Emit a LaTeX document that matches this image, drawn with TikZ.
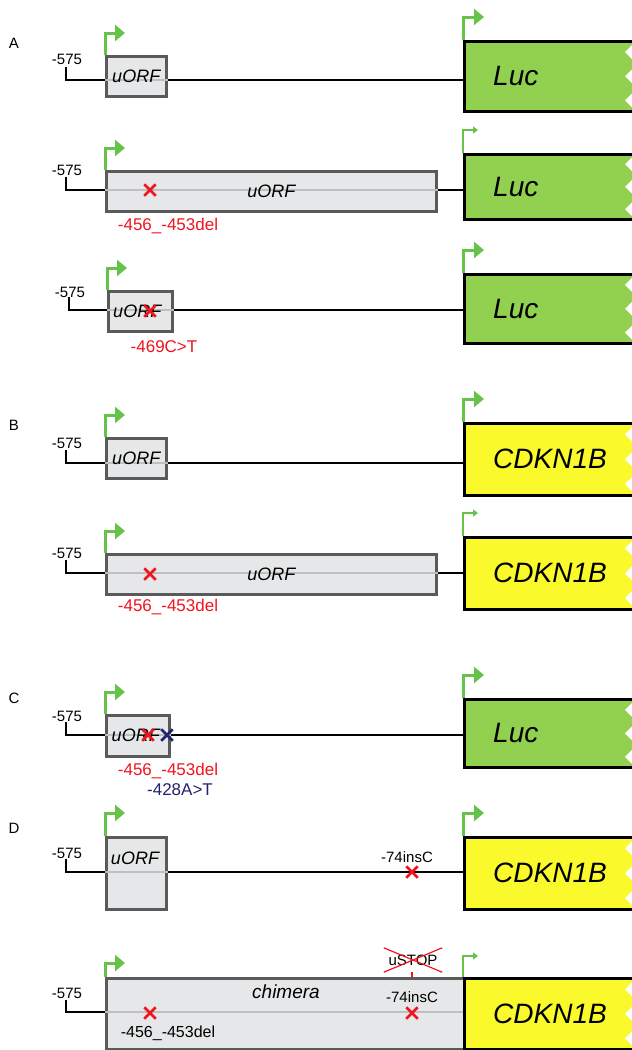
\documentclass[tikz,border=0pt]{standalone}
\usepackage{fontspec}
\setmainfont{Liberation Sans}
\usetikzlibrary{arrows.meta,positioning,calc,shapes.misc}
\definecolor{tssGreen}{HTML}{66C34A}
\definecolor{lucGreen}{HTML}{92D050}
\definecolor{cdkYellow}{HTML}{F9F92C}
\definecolor{orfGray}{HTML}{E6E7E8}
\definecolor{orfEdge}{HTML}{5A5A5A}
\definecolor{mutRed}{HTML}{F0141E}
\definecolor{mutNavy}{HTML}{22226E}

\begin{document}
\begin{tikzpicture}[x=1pt,y=-1pt,
  dna/.style={line width=2.5pt, black},
  orf/.style={draw=orfEdge, fill=orfGray, line width=2.5pt, anchor=north west, inner sep=0pt},
  orfline/.style={line width=2pt, black!25},
  gene/.style={draw=black, line width=2.5pt, anchor=north west, minimum width=190, inner sep=0pt},
  luc/.style={gene, fill=lucGreen},
  cdk/.style={gene, fill=cdkYellow},
  genetxt/.style={font=\fontsize{28}{30}\selectfont\itshape, anchor=west, inner sep=0pt},
  orftxt/.style={font=\fontsize{18}{20}\selectfont\itshape, inner sep=0pt},
  tss/.style={tssGreen, line width=3pt, -{Triangle[length=10pt,width=16pt]}},
  tssthin/.style={tssGreen, line width=1.5pt, -{Triangle[length=5pt,width=7pt]}},
  startlab/.style={font=\fontsize{15}{17}\selectfont, inner sep=0pt},
  mut/.style={cross out, draw=mutRed, line width=2.5pt, minimum size=9, inner sep=0pt},
  lab/.style={font=\fontsize{17}{19}\selectfont, inner sep=0pt, mutRed},
  panel/.style={font=\fontsize{15}{17}\selectfont, inner sep=0pt}]
\useasboundingbox (0,0) rectangle (632,1050);

% ---- A, row 1
\node[panel] (pA) at (14,43) {A};
\coordinate (sA1) at (66,80);
\node[luc, minimum height=70] (gA1) at (463,40) {};
\node[genetxt] (tA1) at ([xshift=30]gA1.west) {Luc};
\draw[dna] ($(sA1)+(0,-13)$) -- (sA1) -- (sA1 -| gA1.west);
\node[orf, minimum width=60, minimum height=40] (uA1) at (105,55) {};
\draw[orfline] (uA1.west |- sA1) -- (uA1.east |- sA1);
\node[orftxt] (oA1) at (uA1) {uORF};
\node[startlab] (nA1) at (67,59) {-575};
\draw[tss] (uA1.north west) -- ++(0,-22) -- ++(20,0);
\draw[tss] (gA1.north west) -- ++(0,-23) -- ++(21,0);

% ---- A, row 2
\coordinate (sA2) at (66,190);
\node[luc, minimum height=65] (gA2) at (463,153) {};
\node[genetxt] (tA2) at ([xshift=30]gA2.west) {Luc};
\draw[dna] ($(sA2)+(0,-13)$) -- (sA2) -- (sA2 -| gA2.west);
\node[orf, minimum width=330, minimum height=40] (uA2) at (105,170) {};
\draw[orfline] (uA2.west |- sA2) -- (uA2.east |- sA2);
\node[orftxt] (oA2) at (uA2) {uORF};
\node[startlab] (nA2) at (67,170) {-575};
\node[mut] (mA2) at (150,190) {};
\node[lab] (lA2) at (168,226) {-456\_-453del};
\draw[tss] (uA2.north west) -- ++(0,-22) -- ++(20,0);
\draw[tssthin] (gA2.north west) -- ++(0,-23) -- ++(15,0);

% ---- A, row 3
\coordinate (sA3) at (69,310);
\node[luc, minimum height=69] (gA3) at (463,273) {};
\node[genetxt] (tA3) at ([xshift=30]gA3.west) {Luc};
\draw[dna] ($(sA3)+(0,-13)$) -- (sA3) -- (sA3 -| gA3.west);
\node[orf, minimum width=64, minimum height=40] (uA3) at (107,290) {};
\draw[orfline] (uA3.west |- sA3) -- (uA3.east |- sA3);
\node[orftxt] (oA3) at ([xshift=-3]uA3) {uORF};
\node[startlab] (nA3) at (70,292) {-575};
\node[mut] (mA3) at (150,311) {};
\node[lab] (lA3) at (164,347) {-469C>T};
\draw[tss] (uA3.north west) -- ++(0,-22) -- ++(20,0);
\draw[tss] (gA3.north west) -- ++(0,-23) -- ++(21,0);

% ---- B, row 1
\node[panel] (pB) at (14,425) {B};
\coordinate (sB1) at (66,463);
\node[cdk, minimum height=72] (gB1) at (463,422) {};
\node[genetxt] (tB1) at ([xshift=30]gB1.west) {CDKN1B};
\draw[dna] ($(sB1)+(0,-13)$) -- (sB1) -- (sB1 -| gB1.west);
\node[orf, minimum width=60, minimum height=40] (uB1) at (105,437) {};
\draw[orfline] (uB1.west |- sB1) -- (uB1.east |- sB1);
\node[orftxt] (oB1) at (uB1) {uORF};
\node[startlab] (nB1) at (67,443) {-575};
\draw[tss] (uB1.north west) -- ++(0,-22) -- ++(20,0);
\draw[tss] (gB1.north west) -- ++(0,-23) -- ++(21,0);

% ---- B, row 2
\coordinate (sB2) at (66,573);
\node[cdk, minimum height=72] (gB2) at (463,536) {};
\node[genetxt] (tB2) at ([xshift=30]gB2.west) {CDKN1B};
\draw[dna] ($(sB2)+(0,-13)$) -- (sB2) -- (sB2 -| gB2.west);
\node[orf, minimum width=330, minimum height=40] (uB2) at (105,553) {};
\draw[orfline] (uB2.west |- sB2) -- (uB2.east |- sB2);
\node[orftxt] (oB2) at (uB2) {uORF};
\node[startlab] (nB2) at (67,553) {-575};
\node[mut] (mB2) at (150,574) {};
\node[lab] (lB2) at (168,607) {-456\_-453del};
\draw[tss] (uB2.north west) -- ++(0,-22) -- ++(20,0);
\draw[tssthin] (gB2.north west) -- ++(0,-23) -- ++(15,0);

% ---- C
\node[panel] (pC) at (14,698) {C};
\coordinate (sC) at (66,735);
\node[luc, minimum height=68] (gC) at (463,698) {};
\node[genetxt] (tC) at ([xshift=30]gC.west) {Luc};
\draw[dna] ($(sC)+(0,-13)$) -- (sC) -- (sC -| gC.west);
\node[orf, minimum width=63, minimum height=41] (uC) at (105,714) {};
\draw[orfline] (uC.west |- sC) -- (uC.east |- sC);
\node[orftxt] (oC) at ([xshift=-2]uC) {uORF};
\node[startlab] (nC) at (67,716) {-575};
\node[mut] (mC1) at (148,735) {};
\node[mut, draw=mutNavy] (mC2) at (167,735) {};
\node[lab] (lC1) at (168,771) {-456\_-453del};
\node[lab, text=mutNavy] (lC2) at (180,790) {-428A>T};
\draw[tss] (uC.north west) -- ++(0,-22) -- ++(20,0);
\draw[tss] (gC.north west) -- ++(0,-23) -- ++(21,0);

% ---- D, row 1
\node[panel] (pD) at (14,828) {D};
\coordinate (sD1) at (66,872);
\node[cdk, minimum height=72] (gD1) at (463,836) {};
\node[genetxt] (tD1) at ([xshift=30]gD1.west) {CDKN1B};
\draw[dna] ($(sD1)+(0,-13)$) -- (sD1) -- (sD1 -| gD1.west);
\node[orf, minimum width=60, minimum height=72] (uD1) at (105,836) {};
\draw[orfline] (uD1.west |- sD1) -- (uD1.east |- sD1);
\node[orftxt] (oD1) at (135,858) {uORF};
\node[startlab] (nD1) at (67,853) {-575};
\node[mut] (mD1) at (412,872) {};
\node[lab, text=black, font=\fontsize{15}{17}\selectfont] (lD1) at (407,857) {-74insC};
\draw[tss] (uD1.north west) -- ++(0,-23) -- ++(20,0);
\draw[tss] (gD1.north west) -- ++(0,-23) -- ++(21,0);

% ---- D, row 2
\coordinate (sD2) at (66,1012);
\node[orf, minimum width=358, minimum height=71] (uD2) at (105,977) {};
\node[cdk, minimum height=71] (gD2) at (463,977) {};
\node[genetxt] (tD2) at ([xshift=30]gD2.west) {CDKN1B};
\draw[dna] ($(sD2)+(0,-12)$) -- (sD2) -- (sD2 -| uD2.west);
\draw[orfline] (uD2.west |- sD2) -- (gD2.west |- sD2);
\node[orftxt, font=\fontsize{19}{21}\selectfont\itshape] (oD2) at (286,992) {chimera};
\node[startlab] (nD2) at (67,993) {-575};
\node[mut] (mD2a) at (150,1013) {};
\node[mut] (mD2b) at (412,1013) {};
\node[lab, text=black, font=\fontsize{16}{18}\selectfont] (lD2a) at (168,1033) {-456\_-453del};
\node[lab, text=black, font=\fontsize{15}{17}\selectfont] (lD2b) at (412,997) {-74insC};
\node[startlab, minimum width=58, minimum height=24] (stop) at (413,960) {uSTOP};
\draw[mutRed, line width=1.2pt] (stop.north west) -- (stop.south east)
  (stop.south west) -- (stop.north east);
\draw[mutRed, line width=2.5pt] (stop.south -| mD2b) -- (mD2b |- uD2.north);
\draw[tss] (uD2.north west) -- ++(0,-14) -- ++(20,0);
\draw[tssthin] (gD2.north west) -- ++(0,-21) -- ++(15,0);

% notches on the cut right side of the reporter boxes
\foreach \g in {gA1,gA2,gA3,gB1,gB2,gC,gD1,gD2}
  \foreach \f in {1,3,5}
    \fill[white] ($(\g.north west)!\f/6!(\g.south west)$) ++(170,-8) -- ++(-8,8) -- ++(8,8) -- cycle;
\end{tikzpicture}
\end{document}
